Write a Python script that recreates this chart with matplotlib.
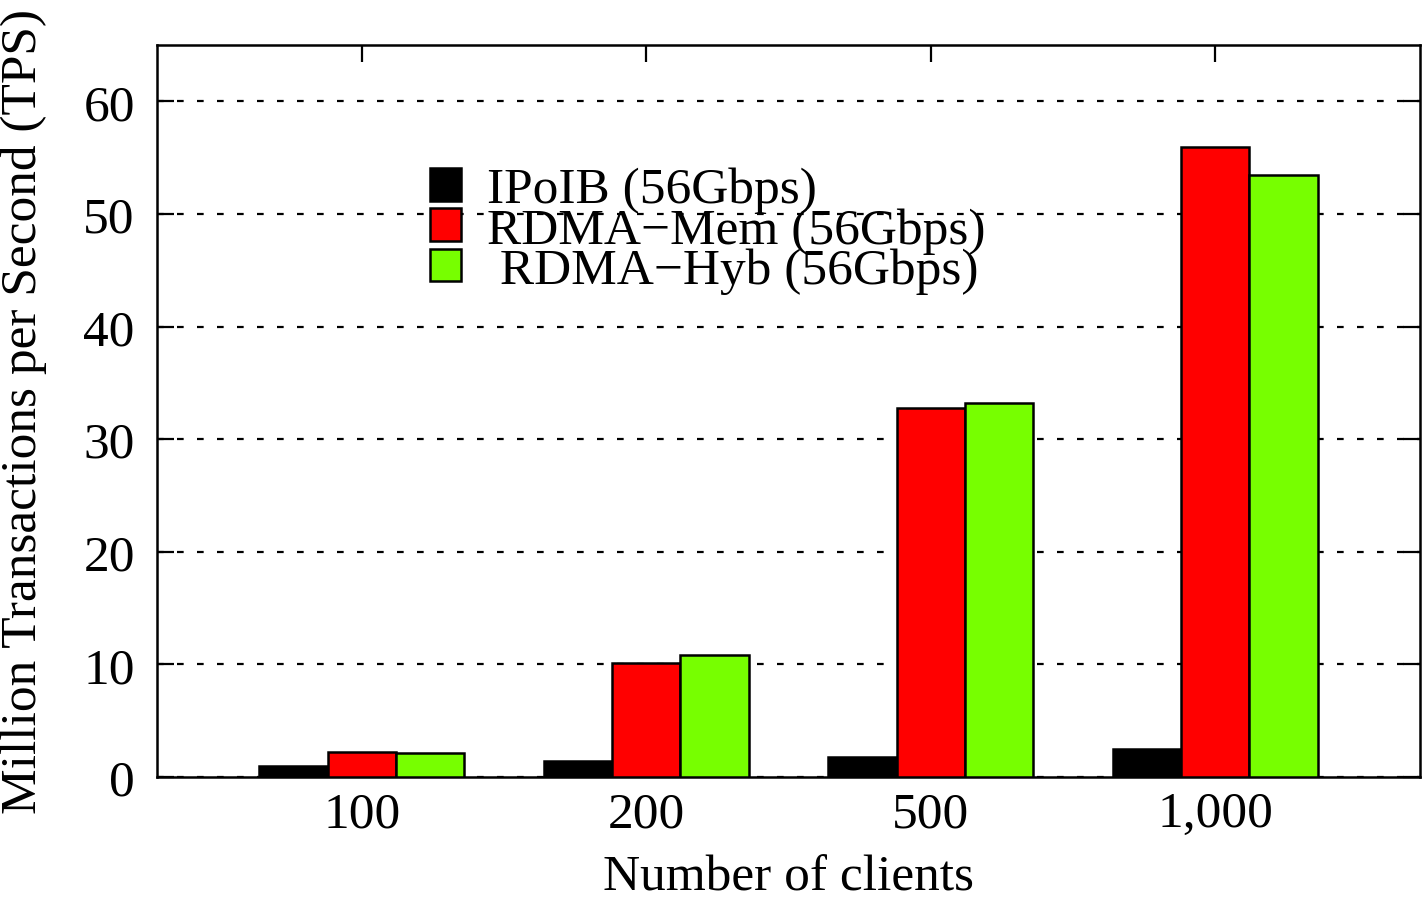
import matplotlib
matplotlib.use("Agg")
import matplotlib.pyplot as plt
import numpy as np

plt.rcParams["font.family"] = ["Liberation Serif", "DejaVu Serif"]

clients = ["100", "200", "500", "1,000"]
ipoib = [1.0, 1.45, 1.8, 2.5]
rdma_mem = [2.25, 10.15, 32.8, 55.9]
rdma_hyb = [2.1, 10.85, 33.2, 53.5]
labels = ["IPoIB (56Gbps)", "RDMA\u2212Mem (56Gbps)", " RDMA\u2212Hyb (56Gbps)"]
colors = ["#000000", "#ff0000", "#77ff00"]

FS = 37
fig = plt.figure(figsize=(14.25, 9.04), dpi=100)
ax = fig.add_axes([157 / 1425, 1 - 778 / 904, (1420 - 157) / 1425, (778 - 46) / 904])

x = np.arange(len(clients))
w = 0.24
for off, vals, col, lab in zip((-w, 0, w), (ipoib, rdma_mem, rdma_hyb), colors, labels):
    ax.bar(x + off, vals, w, color=col, edgecolor="black", linewidth=1.8, label=lab, zorder=3)

ax.set_xlim(-0.72, 3.72)
ax.set_ylim(0, 65)
ax.set_yticks(range(0, 61, 10))
ax.set_xticks(x)
ax.set_xticklabels(clients)
ax.yaxis.grid(True, color="black", linestyle=(0, (3, 6)), linewidth=1.6, zorder=0)
ax.set_axisbelow(True)
ax.tick_params(direction="in", length=12, width=1.6, labelsize=FS, top=True, right=True, pad=10)
ax.tick_params(axis="y", pad=16)
for s in ax.spines.values():
    s.set_linewidth(1.8)
ax.set_xlabel("Number of clients", fontsize=FS, labelpad=12)
ax.set_ylabel("Million Transactions per Second (TPS)", fontsize=FS, labelpad=26)

ax.legend(loc="upper left", bbox_to_anchor=(430 / 1425, 1 - 168 / 904), bbox_transform=fig.transFigure,
          frameon=False, fontsize=FS, borderpad=0, borderaxespad=0, labelspacing=-0.12,
          handlelength=0.6, handleheight=0.6, handletextpad=0.5)

fig.savefig("out.png", dpi=100)
